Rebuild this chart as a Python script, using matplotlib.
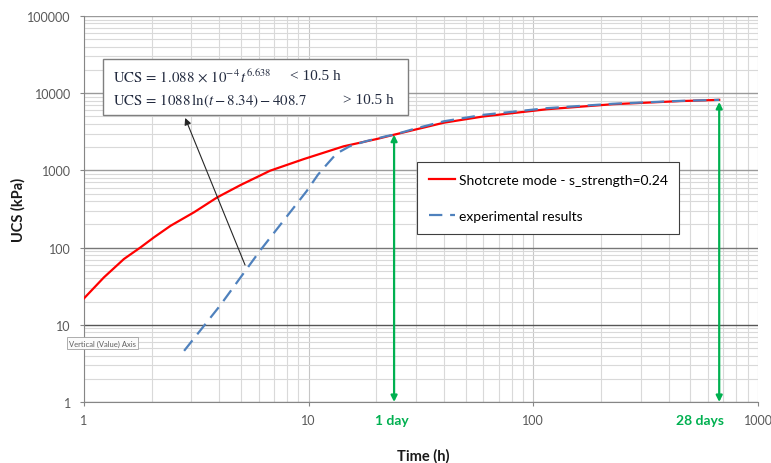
import matplotlib
matplotlib.use("Agg")
import matplotlib.pyplot as plt
from matplotlib.patches import Rectangle
from matplotlib.ticker import LogLocator, NullFormatter

# red model curve (time in h, UCS in kPa)
time_model = [1, 1.227, 1.506, 1.788, 2.05, 2.43, 3.09, 3.92, 4.98, 6.73, 9.5, 14.3, 20.1, 24, 40, 60, 115, 226, 450, 672]
ucs_model = [22, 41.2, 71.2, 101, 136, 192, 287, 448, 647, 990, 1400, 2050, 2550, 2900, 4150, 5000, 6200, 7200, 7900, 8200]

# blue dashed experimental results
time_exp = [2.79, 4.03, 6.07, 9.8, 11.0, 12.0, 13.3, 15.3, 18.1, 22.2, 24, 30, 40, 60, 115, 226, 450, 672]
ucs_exp = [4.6, 17.7, 91, 540, 880, 1180, 1650, 2070, 2400, 2780, 2900, 3500, 4330, 5250, 6400, 7300, 7950, 8200]

x_ticks = [1, 10, 100, 1000]
x_tick_labels = ["1", "10", "100", "1000"]
y_ticks = [1, 10, 100, 1000, 10000, 100000]
y_tick_labels = ["1", "10", "100", "1000", "10000", "100000"]

day_marks = [24, 672]
day_tops = [2900, 7700]
day_labels = ["1 day", "28 days"]

eq_lines = [r"$\mathrm{UCS}\,=\,1.088\,\times\,10^{-4}\,t^{6.638}$",
            r"$\mathrm{UCS}\,=\,1088\,\ln(t - 8.34) - 408.7$"]
eq_limits = ["< 10.5 h", "> 10.5 h"]
pointer_head = (2.82, 4775)
pointer_tail = (5.21, 59.5)

plt.rcParams["font.family"] = "Lato"
plt.rcParams["mathtext.fontset"] = "stix"

W, H = 771, 464
fig = plt.figure(figsize=(W / 100, H / 100), dpi=100)
ax = fig.add_axes([84 / W, 1 - 403 / H, (758 - 84) / W, (403 - 17) / H])
ax.set_xscale("log")
ax.set_yscale("log")
ax.set_xlim(1, 1000)
ax.set_ylim(1, 100000)

ax.plot(time_model, ucs_model, color="#ff0000", lw=1.6,
        label="Shotcrete mode - s_strength=0.24", zorder=3)
ax.plot(time_exp, ucs_exp, color="#4f81bd", lw=1.6, dashes=(6, 3.5),
        label="experimental results", zorder=4)

# ticks and grid
ax.set_xticks(x_ticks)
ax.set_xticklabels(x_tick_labels)
ax.set_yticks(y_ticks)
ax.set_yticklabels(y_tick_labels)
for a in (ax.xaxis, ax.yaxis):
    a.set_minor_locator(LogLocator(base=10, subs=range(2, 10)))
    a.set_minor_formatter(NullFormatter())
ax.grid(which="minor", color="#d9d9d9", lw=0.8)
ax.grid(which="major", axis="x", color="#c6c6c6", lw=0.8)
ax.grid(which="major", axis="y", color="#9a9a9a", lw=1.0)
for gl, v in zip(ax.yaxis.get_gridlines(), y_ticks):
    if v == 10:
        gl.set_color("#555555")
    elif v == 100:
        gl.set_color("#777777")
ax.set_axisbelow(True)
ax.tick_params(which="major", length=3, color="#868686", labelsize=9, labelcolor="#595959")
ax.tick_params(which="minor", length=0)
ax.tick_params(axis="y", pad=6.5)
ax.tick_params(axis="x", pad=6)
for s in ["top", "right"]:
    ax.spines[s].set_visible(False)
for s in ["left", "bottom"]:
    ax.spines[s].set_color("#868686")

leg = ax.legend(loc="upper left", bbox_to_anchor=(417 / W, 1 - 163 / H),
                bbox_transform=fig.transFigure, borderaxespad=0, fancybox=False,
                framealpha=1, edgecolor="#3f3f3f", fontsize=10, labelspacing=1.75,
                handlelength=1.9, handletextpad=0.25, borderpad=0.85)
leg.get_frame().set_linewidth(0.8)
leg.set_zorder(6)

# equation box
rect = Rectangle((103 / W, 1 - 116 / H), (408 - 103) / W, (116 - 60) / H,
                 transform=fig.transFigure, facecolor="white", edgecolor="#7f7f7f",
                 lw=1.0, zorder=5)
fig.add_artist(rect)
eq_color = "#222a3f"
fig.text(113 / W, 1 - 77 / H, eq_lines[0], fontsize=10.7, va="center", color=eq_color, zorder=6)
fig.text(113 / W, 1 - 101 / H, eq_lines[1], fontsize=10.7, va="center", color=eq_color, zorder=6)
fig.text(290 / W, 1 - 77 / H, eq_limits[0], fontsize=11, va="center", color=eq_color,
         family="Liberation Serif", zorder=6)
fig.text(343 / W, 1 - 101 / H, eq_limits[1], fontsize=11, va="center", color=eq_color,
         family="Liberation Serif", zorder=6)

ax.annotate("", xy=pointer_head, xytext=pointer_tail,
            arrowprops=dict(arrowstyle="-|>", color="#262626", lw=0.8,
                            mutation_scale=10, shrinkA=0, shrinkB=0), zorder=6)

# 1 day / 28 days markers
label_shift = [-2, -19]
for x, top, lab, dx in zip(day_marks, day_tops, day_labels, label_shift):
    ax.annotate("", xy=(x, top), xytext=(x, 1), annotation_clip=False,
                arrowprops=dict(arrowstyle="<|-|>", color="#00b050", lw=1.6,
                                mutation_scale=9, shrinkA=0, shrinkB=0), zorder=5)
    ax.annotate(lab, xy=(x, -0.047), xycoords=ax.get_xaxis_transform(),
                xytext=(dx * 0.72, 0), textcoords="offset points", ha="center", va="center",
                color="#00b050", fontweight="bold", fontsize=10, annotation_clip=False)

fig.text(423 / W, 1 - 456 / H, "Time (h)", ha="center", va="center",
         fontweight="bold", fontsize=10.5, color="#1a1a1a")
fig.text(18 / W, 1 - 210 / H, "UCS (kPa)", ha="center", va="center", rotation=90,
         fontweight="bold", fontsize=10.5, color="#1a1a1a")

fig.text(69 / W, 1 - 344 / H, "Vertical (Value) Axis", fontsize=5.5, color="#5f5f5f",
         va="center", bbox=dict(boxstyle="square,pad=0.3", fc="#fbfbfb", ec="#a0a0a0", lw=0.6))

fig.savefig("out.png", dpi=100)
